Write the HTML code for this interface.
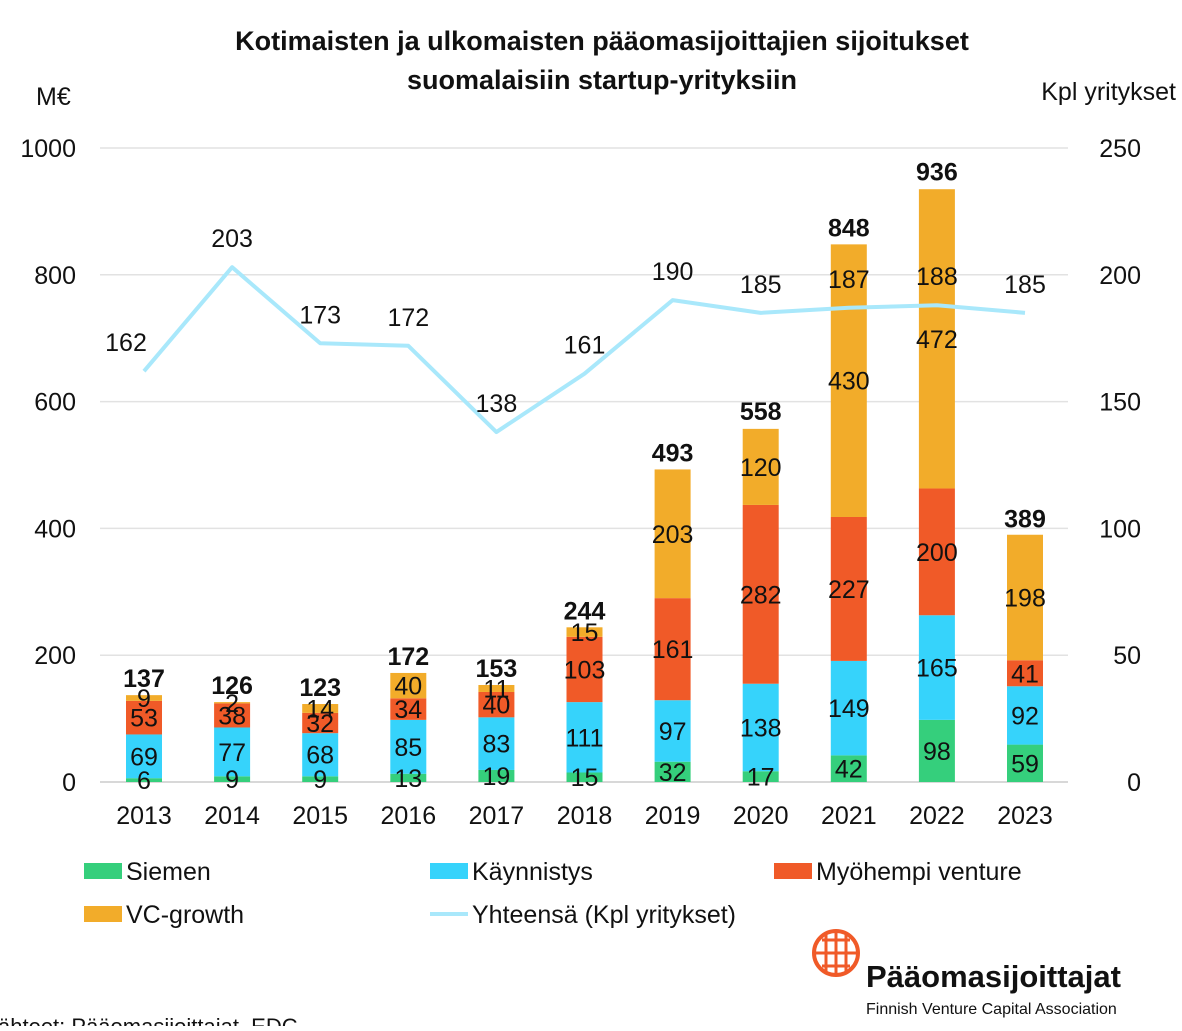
<!DOCTYPE html>
<html><head><meta charset="utf-8">
<style>
body{margin:0;background:#fff;font-family:"Liberation Sans",sans-serif;}
svg text{font-family:"Liberation Sans",sans-serif;}
</style></head>
<body>
<svg id="chart" width="1182" height="1026" xmlns="http://www.w3.org/2000/svg">
<text x="602" y="50" text-anchor="middle" font-size="27" font-weight="bold" fill="#111">Kotimaisten ja ulkomaisten pääomasijoittajien sijoitukset</text>
<text x="602" y="89" text-anchor="middle" font-size="27" font-weight="bold" fill="#111">suomalaisiin startup-yrityksiin</text>
<text x="36" y="105" font-size="25" fill="#111">M€</text>
<text x="1176" y="100" text-anchor="end" font-size="25" fill="#111">Kpl yritykset</text>
<g id="grid"></g><g id="bars"></g><g id="line"></g><g id="labels"></g>
<g font-size="25" fill="#111">
<rect x="84" y="863" width="38" height="16" fill="#35cf7c"/><text x="126" y="880">Siemen</text>
<rect x="430" y="863" width="38" height="16" fill="#36d3fb"/><text x="472" y="880">Käynnistys</text>
<rect x="774" y="863" width="38" height="16" fill="#f05a28"/><text x="816" y="880">Myöhempi venture</text>
<rect x="84" y="906" width="38" height="16" fill="#f2ac2a"/><text x="126" y="923">VC-growth</text>
<line x1="430" y1="914" x2="468" y2="914" stroke="#a9e8fb" stroke-width="4"/><text x="472" y="923">Yhteensä (Kpl yritykset)</text>
</g>
<g>
<circle cx="836" cy="953" r="22" fill="none" stroke="#f05a28" stroke-width="4"/>
<path d="M814 953h44M836 931v44M822 940h28M822 966h28M826 935v36M846 935v36" stroke="#f05a28" stroke-width="3" fill="none"/>
<text x="866" y="987" font-size="31" font-weight="bold" fill="#111">Pääomasijoittajat</text>
<text x="866" y="1014" font-size="16" fill="#111">Finnish Venture Capital Association</text>
</g>
<text x="-2" y="1034" font-size="22" fill="#111">ähteet: Pääomasijoittajat, EDC</text>
</svg>
<script>
const years=["2013","2014","2015","2016","2017","2018","2019","2020","2021","2022","2023"];
const siemen=[6,9,9,13,19,15,32,17,42,98,59];
const kaynnistys=[69,77,68,85,83,111,97,138,149,165,92];
const myohempi=[53,38,32,34,40,103,161,282,227,200,41];
const vcgrowth=[9,2,14,40,11,15,203,120,430,472,198];
const totals=[137,126,123,172,153,244,493,558,848,936,389];
const counts=[162,203,173,172,138,161,190,185,187,188,185];
const leftTicks=[0,200,400,600,800,1000];
const rightTicks=[0,50,100,150,200,250];
const NS="http://www.w3.org/2000/svg";
const y0=782,yTop=148;
const yL=v=>y0-(y0-yTop)*v/1000;
const yR=v=>y0-(y0-yTop)*v/250;
const xC=i=>144+i*88.1;
function mk(t,a,p){const e=document.createElementNS(NS,t);for(const k in a)e.setAttribute(k,a[k]);p.appendChild(e);return e;}
const grid=document.getElementById('grid'),bars=document.getElementById('bars'),line=document.getElementById('line'),labels=document.getElementById('labels');
leftTicks.forEach(v=>{
 const l=mk('line',{x1:100,x2:1068,y1:yL(v),y2:yL(v),stroke:v===0?'#ccc':'#e2e2e2','stroke-width':1.5},grid);
 
 
 const t=mk('text',{x:76,y:yL(v)+9,'text-anchor':'end','font-size':25,fill:'#111'},grid);t.textContent=v;
 
 
});
rightTicks.forEach(v=>{
 const t=mk('text',{x:1141,y:yR(v)+9,'text-anchor':'end','font-size':25,fill:'#111'},grid);t.textContent=v;
 
 
});
const series=[[siemen,'#35cf7c'],[kaynnistys,'#36d3fb'],[myohempi,'#f05a28'],[vcgrowth,'#f2ac2a']];
years.forEach((yr,i)=>{
 let base=0;const x=xC(i);
 series.forEach(([arr,c])=>{
  const v=arr[i];const top=base+v;
  const r=mk('rect',{x:x-18,y:yL(top),width:36,height:yL(base)-yL(top),fill:c},bars);
  
  
  const t=mk('text',{x:x,y:(yL(base)+yL(top))/2+9,'text-anchor':'middle','font-size':25,fill:'#111'},labels);t.textContent=v;
  
  
  base=top;
 });
 const tt=mk('text',{x:x,y:yL(totals[i])-8,'text-anchor':'middle','font-size':25,'font-weight':'bold',fill:'#111'},labels);tt.textContent=totals[i];
 
 
 const xl=mk('text',{x:x,y:824,'text-anchor':'middle','font-size':25,fill:'#111'},labels);xl.textContent=yr;
 
 
 const cl=mk('text',{x:i===0?x-18:x,y:yR(counts[i])-20,'text-anchor':'middle','font-size':25,fill:'#111'},labels);cl.textContent=counts[i];
 
 
});
const pts=counts.map((c,i)=>xC(i)+','+yR(c)).join(' ');
const pl=mk('polyline',{points:pts,fill:'none',stroke:'#a9e8fb','stroke-width':4,'stroke-linejoin':'round'},line);


</script>
</body></html>
